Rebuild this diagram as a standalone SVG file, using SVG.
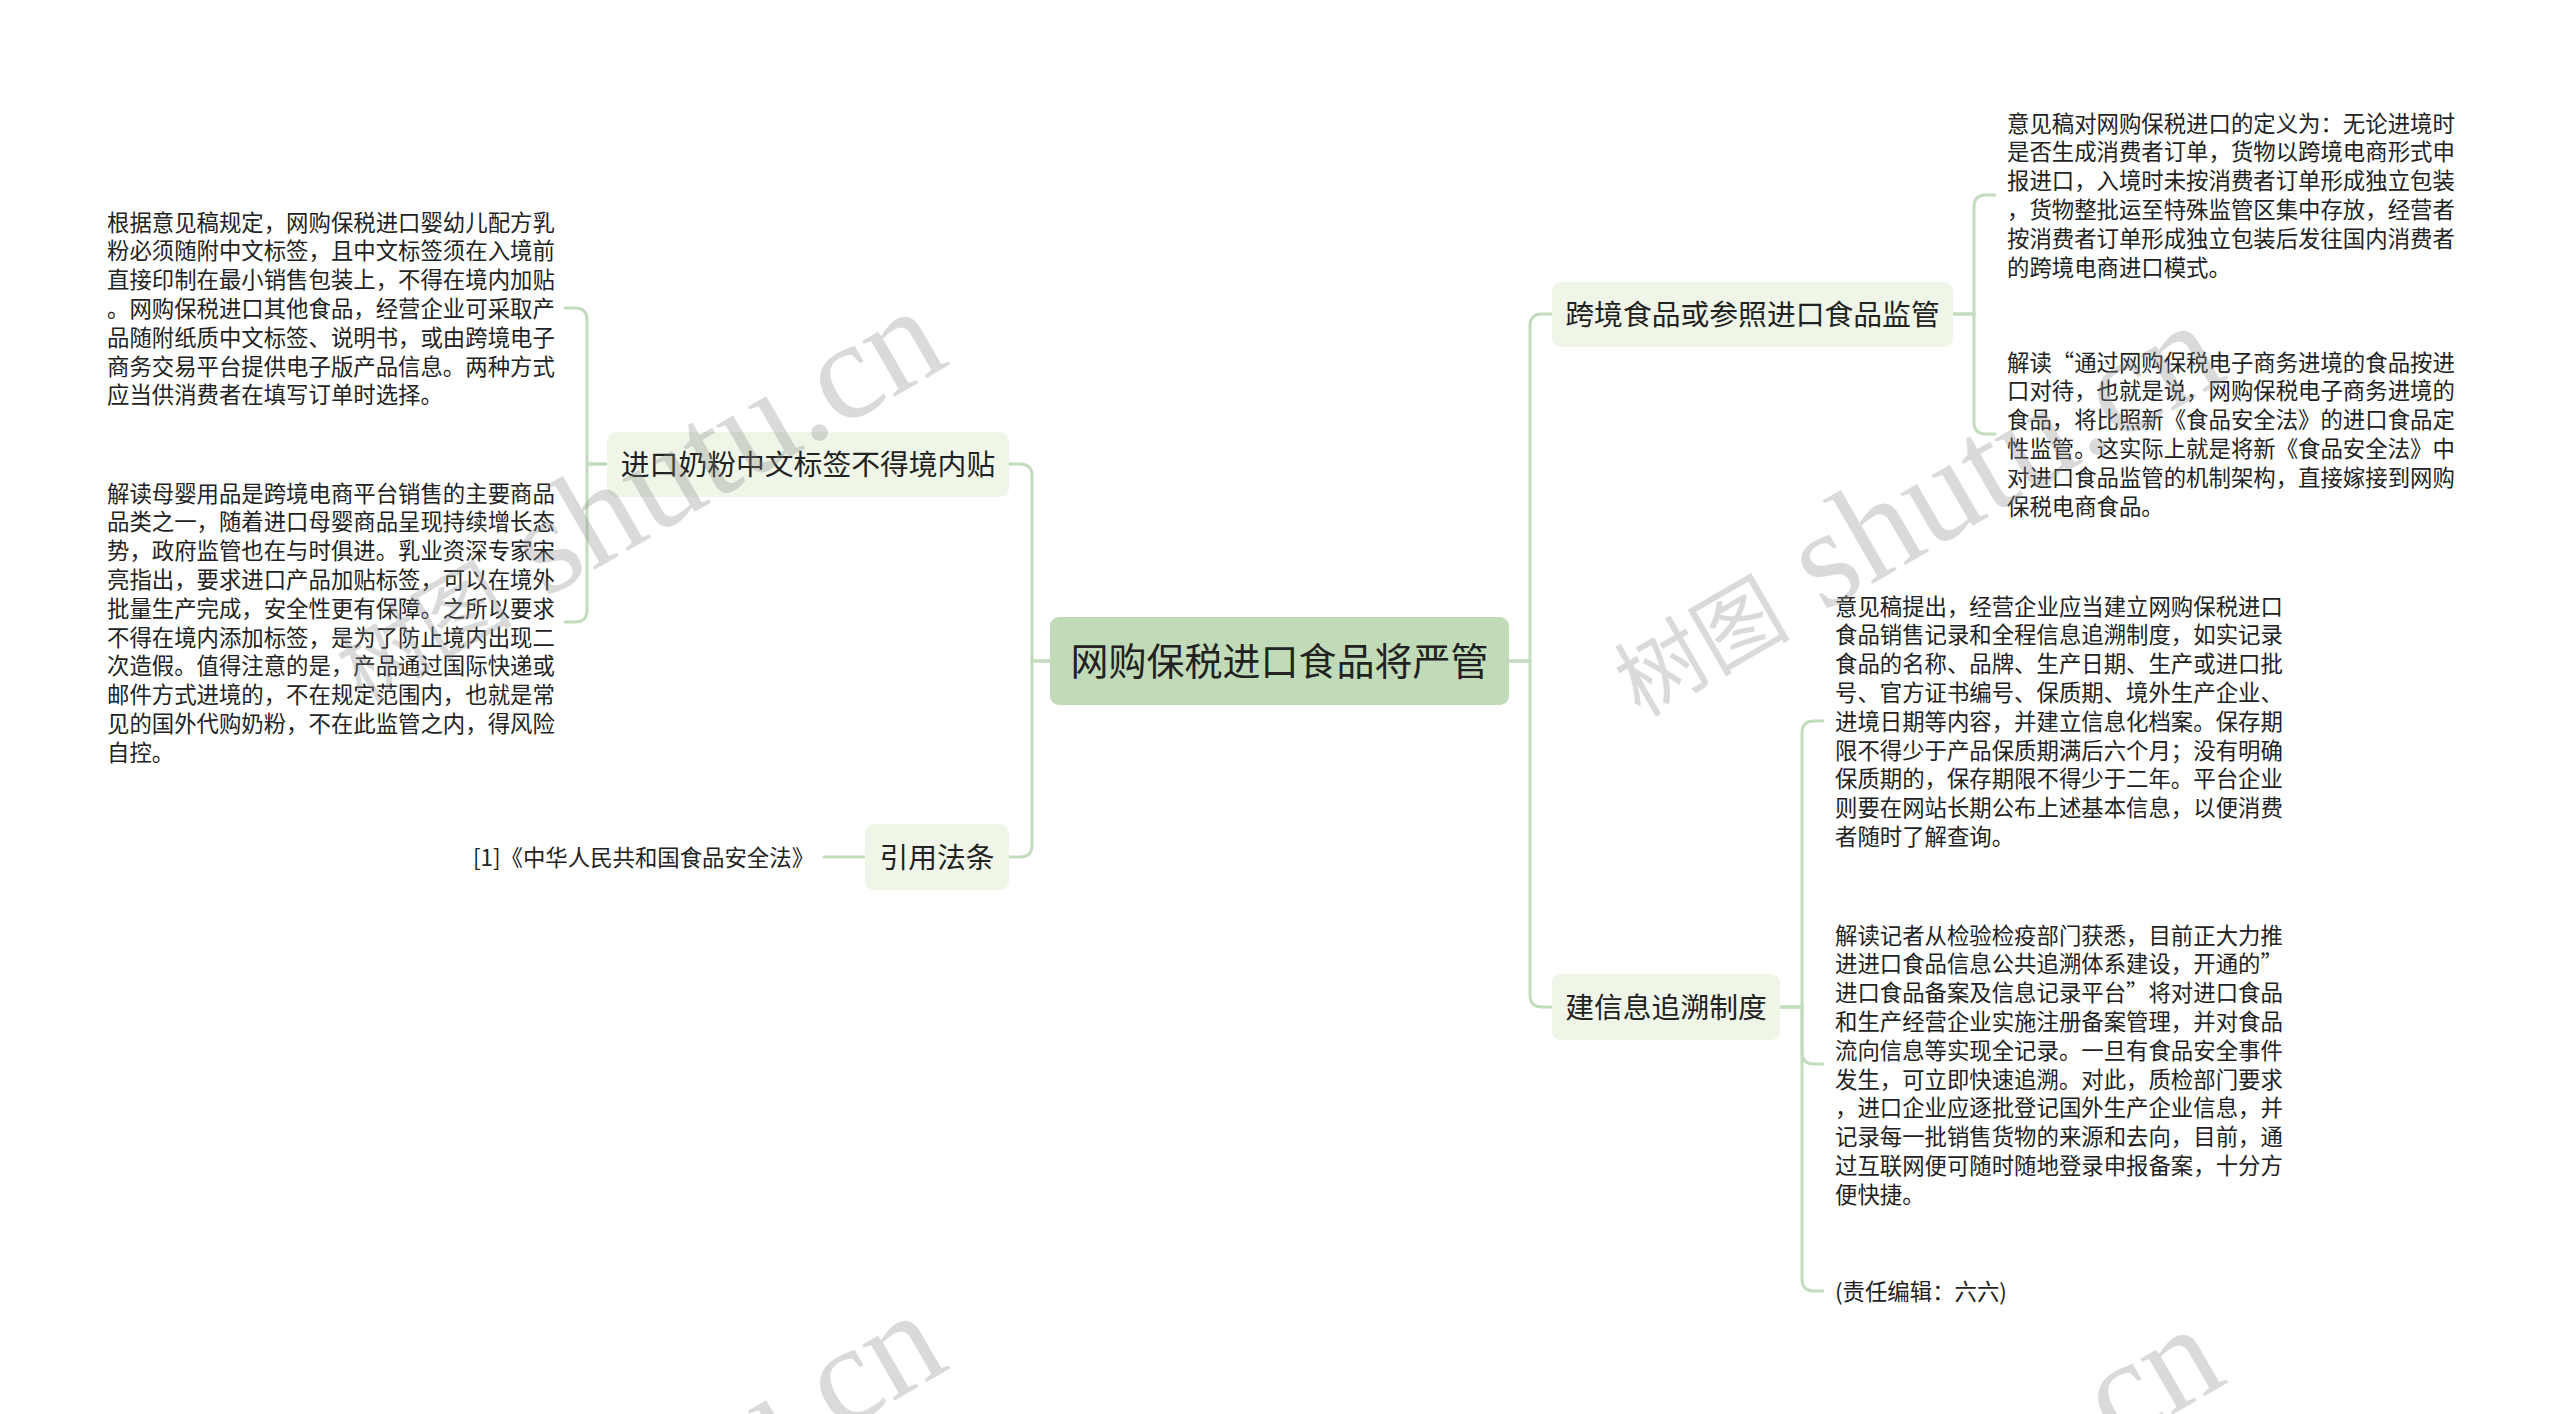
<svg xmlns="http://www.w3.org/2000/svg" width="2560" height="1414" viewBox="0 0 2560 1414">
<style>
.bg{fill:#ffffff}
.root{fill:#c1dbb9}
.sub{fill:#eff6e8}
.conn{fill:none;stroke:#c4dcbe;stroke-width:3;stroke-linecap:round}
.tr{font-family:"Noto Sans CJK SC","Noto Sans",sans-serif;font-size:38px;fill:#222;text-anchor:middle}
.ts{font-family:"Noto Sans CJK SC","Noto Sans",sans-serif;font-size:28.8px;fill:#222;text-anchor:middle}
.tl{font-family:"Noto Sans CJK SC","Noto Sans",sans-serif;font-size:22.4px;fill:#222}
.wm{font-family:"Liberation Serif","Noto Sans CJK SC",serif;fill:#888;opacity:0.3}
.wc{font-size:88px}
.we{font-size:140px}
</style>
<rect class="bg" x="0" y="0" width="2560" height="1414"/>
<g id="connectors">
<path class="conn" d="M1050,661 H1032 V476 Q1032,464 1020,464 H1009"/>
<path class="conn" d="M1050,661 H1032 V845 Q1032,857 1020,857 H1009"/>
<path class="conn" d="M1509,661 H1530 V326 Q1530,314 1542,314 H1552"/>
<path class="conn" d="M1509,661 H1530 V995 Q1530,1007 1542,1007 H1552"/>
<path class="conn" d="M607,464 H587 V320 Q587,308 575,308 H565"/>
<path class="conn" d="M607,464 H587 V610 Q587,622 575,622 H565"/>
<path class="conn" d="M865,857 H824"/>
<path class="conn" d="M1953,314 H1974 V207 Q1974,195 1986,195 H1995"/>
<path class="conn" d="M1953,314 H1974 V422 Q1974,434 1986,434 H1995"/>
<path class="conn" d="M1780,1007 H1802 V733 Q1802,721 1814,721 H1823"/>
<path class="conn" d="M1780,1007 H1802 V1052 Q1802,1064 1814,1064 H1823"/>
<path class="conn" d="M1780,1007 H1802 V1279 Q1802,1291 1814,1291 H1823"/>
</g>
<g id="root">
<rect class="root" x="1050" y="617" width="459" height="88" rx="9"/>
<text class="tr" x="1279.5" y="675">网购保税进口食品将严管</text>
</g>
<g id="node-a">
<rect class="sub" x="607" y="432" width="402" height="65" rx="9"/>
<text class="ts" x="808" y="475">进口奶粉中文标签不得境内贴</text>
</g>
<g id="node-b">
<rect class="sub" x="865" y="824" width="144" height="66" rx="9"/>
<text class="ts" x="937" y="868">引用法条</text>
</g>
<g id="node-c">
<rect class="sub" x="1552" y="282" width="401" height="65" rx="9"/>
<text class="ts" x="1752.5" y="325">跨境食品或参照进口食品监管</text>
</g>
<g id="node-d">
<rect class="sub" x="1552" y="974" width="228" height="66" rx="9"/>
<text class="ts" x="1666" y="1018">建信息追溯制度</text>
</g>
<g id="leaf-a1">
<text class="tl" x="107" y="230.5">根据意见稿规定，网购保税进口婴幼儿配方乳</text>
<text class="tl" x="107" y="259.3">粉必须随附中文标签，且中文标签须在入境前</text>
<text class="tl" x="107" y="288.1">直接印制在最小销售包装上，不得在境内加贴</text>
<text class="tl" x="107" y="316.9">。网购保税进口其他食品，经营企业可采取产</text>
<text class="tl" x="107" y="345.7">品随附纸质中文标签、说明书，或由跨境电子</text>
<text class="tl" x="107" y="374.5">商务交易平台提供电子版产品信息。两种方式</text>
<text class="tl" x="107" y="403.3">应当供消费者在填写订单时选择。</text>
</g>
<g id="leaf-a2">
<text class="tl" x="107" y="501.5">解读母婴用品是跨境电商平台销售的主要商品</text>
<text class="tl" x="107" y="530.3">品类之一，随着进口母婴商品呈现持续增长态</text>
<text class="tl" x="107" y="559.1">势，政府监管也在与时俱进。乳业资深专家宋</text>
<text class="tl" x="107" y="587.9">亮指出，要求进口产品加贴标签，可以在境外</text>
<text class="tl" x="107" y="616.7">批量生产完成，安全性更有保障。之所以要求</text>
<text class="tl" x="107" y="645.5">不得在境内添加标签，是为了防止境内出现二</text>
<text class="tl" x="107" y="674.3">次造假。值得注意的是，产品通过国际快递或</text>
<text class="tl" x="107" y="703.1">邮件方式进境的，不在规定范围内，也就是常</text>
<text class="tl" x="107" y="731.9">见的国外代购奶粉，不在此监管之内，得风险</text>
<text class="tl" x="107" y="760.7">自控。</text>
</g>
<g id="leaf-b1">
<text class="tl" x="473" y="865.5">[1]《中华人民共和国食品安全法》</text>
</g>
<g id="leaf-c1">
<text class="tl" x="2007" y="131.5">意见稿对网购保税进口的定义为：无论进境时</text>
<text class="tl" x="2007" y="160.3">是否生成消费者订单，货物以跨境电商形式申</text>
<text class="tl" x="2007" y="189.1">报进口，入境时未按消费者订单形成独立包装</text>
<text class="tl" x="2007" y="217.9">，货物整批运至特殊监管区集中存放，经营者</text>
<text class="tl" x="2007" y="246.7">按消费者订单形成独立包装后发往国内消费者</text>
<text class="tl" x="2007" y="275.5">的跨境电商进口模式。</text>
</g>
<g id="leaf-c2">
<text class="tl" x="2007" y="370.5">解读“通过网购保税电子商务进境的食品按进</text>
<text class="tl" x="2007" y="399.3">口对待，也就是说，网购保税电子商务进境的</text>
<text class="tl" x="2007" y="428.1">食品，将比照新《食品安全法》的进口食品定</text>
<text class="tl" x="2007" y="456.9">性监管。这实际上就是将新《食品安全法》中</text>
<text class="tl" x="2007" y="485.7">对进口食品监管的机制架构，直接嫁接到网购</text>
<text class="tl" x="2007" y="514.5">保税电商食品。</text>
</g>
<g id="leaf-d1">
<text class="tl" x="1835" y="614.5">意见稿提出，经营企业应当建立网购保税进口</text>
<text class="tl" x="1835" y="643.3">食品销售记录和全程信息追溯制度，如实记录</text>
<text class="tl" x="1835" y="672.1">食品的名称、品牌、生产日期、生产或进口批</text>
<text class="tl" x="1835" y="700.9">号、官方证书编号、保质期、境外生产企业、</text>
<text class="tl" x="1835" y="729.7">进境日期等内容，并建立信息化档案。保存期</text>
<text class="tl" x="1835" y="758.5">限不得少于产品保质期满后六个月；没有明确</text>
<text class="tl" x="1835" y="787.3">保质期的，保存期限不得少于二年。平台企业</text>
<text class="tl" x="1835" y="816.1">则要在网站长期公布上述基本信息，以便消费</text>
<text class="tl" x="1835" y="844.9">者随时了解查询。</text>
</g>
<g id="leaf-d2">
<text class="tl" x="1835" y="943.5">解读记者从检验检疫部门获悉，目前正大力推</text>
<text class="tl" x="1835" y="972.3">进进口食品信息公共追溯体系建设，开通的”</text>
<text class="tl" x="1835" y="1001.1">进口食品备案及信息记录平台”将对进口食品</text>
<text class="tl" x="1835" y="1029.9">和生产经营企业实施注册备案管理，并对食品</text>
<text class="tl" x="1835" y="1058.7">流向信息等实现全记录。一旦有食品安全事件</text>
<text class="tl" x="1835" y="1087.5">发生，可立即快速追溯。对此，质检部门要求</text>
<text class="tl" x="1835" y="1116.3">，进口企业应逐批登记国外生产企业信息，并</text>
<text class="tl" x="1835" y="1145.1">记录每一批销售货物的来源和去向，目前，通</text>
<text class="tl" x="1835" y="1173.9">过互联网便可随时随地登录申报备案，十分方</text>
<text class="tl" x="1835" y="1202.7">便快捷。</text>
</g>
<g id="leaf-d3">
<text class="tl" x="1835" y="1299.5">(责任编辑：六六)</text>
</g>
<g id="watermarks">
<text class="wm" transform="translate(362,704) rotate(-30)"><tspan class="wc">树图</tspan><tspan class="we"> shutu.cn</tspan></text>
<text class="wm" transform="translate(1640,718) rotate(-30)"><tspan class="wc">树图</tspan><tspan class="we"> shutu.cn</tspan></text>
<text class="wm" transform="translate(362,1708) rotate(-30)"><tspan class="wc">树图</tspan><tspan class="we"> shutu.cn</tspan></text>
<text class="wm" transform="translate(1640,1722) rotate(-30)"><tspan class="wc">树图</tspan><tspan class="we"> shutu.cn</tspan></text>
</g>
</svg>
